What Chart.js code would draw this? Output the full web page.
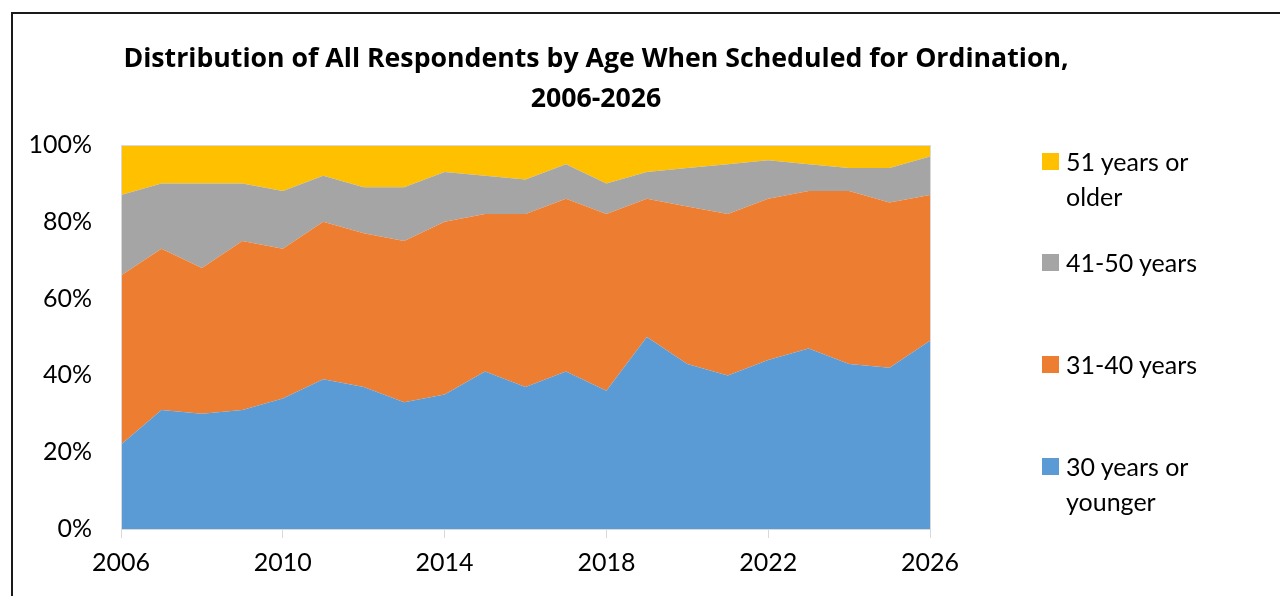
<!DOCTYPE html>
<html>
<head>
<meta charset="utf-8">
<script src="https://cdn.jsdelivr.net/npm/chart.js@4"></script>
<style>
    html, body { margin: 0; padding: 0; background: #fff; overflow: hidden; }
    body { width: 1280px; height: 596px; position: relative; font-family: Lato, 'Open Sans', sans-serif; color: #000; }
    #frame { position: absolute; left: 11px; top: 12px; width: 1400px; height: 700px; border-left: 2px solid #1a1a1a; border-top: 2px solid #1a1a1a; }
    #chartBox { position: absolute; left: 0; top: 0; width: 1280px; height: 596px; }
    #title { position: absolute; left: 96px; top: 37px; width: 1000px; text-align: center; font-family: 'Open Sans', sans-serif; font-weight: bold; font-size: 26.7px; line-height: 40px; }
    .legend-item { position: absolute; left: 1042px; display: flex; align-items: flex-start; }
    .legend-item .box { width: 17px; height: 17px; margin-top: 9px; margin-right: 7px; flex: none; }
    .legend-item .txt { width: 150px; font-size: 25px; line-height: 35px; }
</style>
</head>
<body>
<div id="frame"></div>
<div id="chartBox"><canvas id="ageChart"></canvas></div>
<div id="title">Distribution of All Respondents by Age When Scheduled for Ordination,<br>2006-2026</div>
<div id="legend"></div>
<script>
// years and share (%) of respondents in each age group
const years = [2006, 2007, 2008, 2009, 2010, 2011, 2012, 2013, 2014, 2015, 2016,
    2017, 2018, 2019, 2020, 2021, 2022, 2023, 2024, 2025, 2026];
const under30 = [22, 31, 30, 31, 34, 39, 37, 33, 35, 41, 37, 41, 36, 50, 43, 40, 44, 47, 43, 42, 49];
const age31to40 = [44, 42, 38, 44, 39, 41, 40, 42, 45, 41, 45, 45, 46, 36, 41, 42, 42, 41, 45, 43, 38];
const age41to50 = [21, 17, 22, 15, 15, 12, 12, 14, 13, 10, 9, 9, 8, 7, 10, 13, 10, 7, 6, 9, 10];
const over51 = [13, 10, 10, 10, 12, 8, 11, 11, 7, 8, 9, 5, 10, 7, 6, 5, 4, 5, 6, 6, 3];

const seriesLabels = ['30 years or younger', '31-40 years', '41-50 years', '51 years or older'];
const seriesColors = ['#5B9BD5', '#ED7D31', '#A5A5A5', '#FFC000'];
const seriesData = [under30, age31to40, age41to50, over51];

const tickFont = { family: 'Lato', size: 25 };

// light border round the plot area
const plotFrame = {
    id: 'plotFrame',
    afterDatasetsDraw(chart) {
        const a = chart.chartArea;
        const ctx = chart.ctx;
        ctx.save();
        ctx.strokeStyle = '#d9d9d9';
        ctx.lineWidth = 1;
        ctx.strokeRect(a.left + 0.5, a.top + 0.5, a.right - a.left, a.bottom - a.top);
        ctx.restore();
    }
};

new Chart(document.getElementById('ageChart'), {
    type: 'line',
    data: {
        datasets: seriesData.map((vals, i) => ({
            label: seriesLabels[i],
            data: vals.map((v, j) => ({ x: years[j], y: v })),
            backgroundColor: seriesColors[i],
            borderWidth: 0,
            pointRadius: 0,
            fill: i === 0 ? 'origin' : '-1',
            tension: 0
        }))
    },
    options: {
        responsive: true,
        maintainAspectRatio: false,
        animation: false,
        layout: { padding: { left: 20, right: 350, top: 145, bottom: 17 } },
        plugins: {
            legend: { display: false },
            title: { display: false },
            tooltip: { enabled: false }
        },
        scales: {
            x: {
                type: 'linear',
                min: 2006,
                max: 2026,
                afterFit: s => { s.height = 50; },
                ticks: {
                    stepSize: 4,
                    color: '#000',
                    font: tickFont,
                    padding: 10,
                    maxRotation: 0,
                    callback: v => String(v)
                },
                grid: { drawOnChartArea: false, drawTicks: true, tickLength: 9, color: '#d9d9d9' },
                border: { display: true, color: '#d9d9d9' }
            },
            y: {
                stacked: true,
                min: 0,
                max: 100,
                afterFit: s => { s.width = 101; },
                ticks: {
                    stepSize: 20,
                    color: '#000',
                    font: tickFont,
                    padding: 29,
                    callback: v => v + '%'
                },
                grid: { display: false, drawTicks: false },
                border: { display: true, color: '#d9d9d9' }
            }
        }
    },
    plugins: [plotFrame]
});

// legend on the right, oldest group on top
const legendTops = [449, 347, 245, 144];
const legend = document.getElementById('legend');
seriesLabels.forEach((label, i) => {
    const item = document.createElement('div');
    item.className = 'legend-item';
    item.style.top = legendTops[i] + 'px';
    item.innerHTML = '<div class="box" style="background:' + seriesColors[i] + '"></div><div class="txt">' + label + '</div>';
    legend.appendChild(item);
});
</script>
</body>
</html>
